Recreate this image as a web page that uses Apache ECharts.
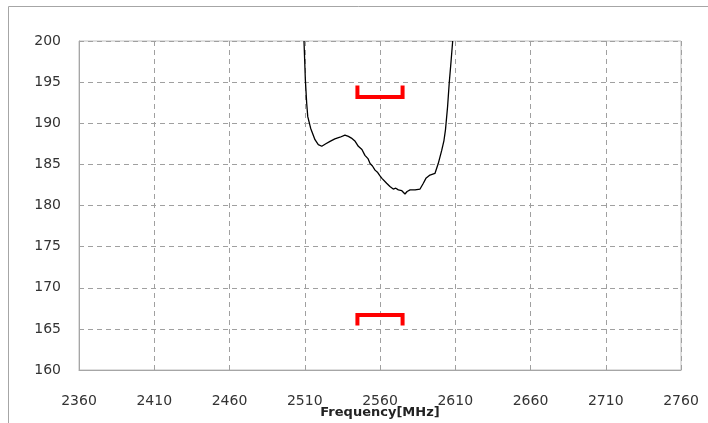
<!DOCTYPE html>
<html><head><meta charset="utf-8">
<script src="https://cdn.jsdelivr.net/npm/echarts@6/dist/echarts.min.js"></script>
<style>html,body{margin:0;padding:0;background:#fff}#c{width:708px;height:423px}</style>
</head><body><div id="c"></div>
<script>
const freqs = [2509.5, 2510.4, 2511.3, 2512, 2513.9, 2516.8, 2519, 2521.3, 2524, 2526.8, 2530, 2533.4, 2536.7, 2539, 2541, 2543.5, 2545.6, 2548, 2550, 2552, 2553.4, 2555, 2556.7, 2558.5, 2560, 2561.3, 2562.5, 2564.4, 2566.6, 2568.8, 2570.5, 2572.2, 2574.5, 2576.6, 2578, 2580, 2583.3, 2586.6, 2588.8, 2590.5, 2593.2, 2596.5, 2598.7, 2601, 2602.5, 2603.5, 2604.9, 2606, 2607.2, 2608.3];
const values = [200, 195.3, 192.4, 190.8, 189.4, 188.0, 187.4, 187.2, 187.5, 187.8, 188.1, 188.3, 188.55, 188.4, 188.2, 187.8, 187.2, 186.8, 186.1, 185.7, 185.1, 184.8, 184.3, 184.0, 183.6, 183.3, 183.1, 182.7, 182.3, 182.0, 182.1, 181.9, 181.8, 181.4, 181.7, 181.9, 181.9, 182.0, 182.7, 183.3, 183.7, 183.9, 185.1, 186.7, 187.9, 189.2, 192.0, 194.9, 197.5, 200];
const upperFreq = [2545, 2545, 2575, 2575];
const upperVal = [194.6, 193.2, 193.2, 194.6];
const lowerFreq = [2545, 2545, 2575, 2575];
const lowerVal = [165.4, 166.7, 166.7, 165.4];
const xMin = 2360, xMax = 2760, xStep = 50;
const yMin = 160, yMax = 200, yStep = 5;
const xName = 'Frequency[MHz]';

const zip = (a, b) => a.map((v, i) => [v, b[i]]);
const chart = echarts.init(document.getElementById('c'));
const font = 'DejaVu Sans';
chart.setOption({
  animation: false,
  graphic: [{type: 'rect', shape: {x: 8.5, y: 6.5, width: 800, height: 600}, style: {fill: 'none', stroke: '#a6a6a6', lineWidth: 1}, silent: true}],
  grid: {left: 79, top: 41, right: 27, bottom: 53, show: true, borderColor: '#bfbfbf', borderWidth: 1, containLabel: false, outerBoundsMode: 'none'},
  xAxis: {
    type: 'value', min: xMin, max: xMax, interval: xStep,
    name: xName, nameLocation: 'middle', nameGap: 36, nameMoveOverlap: false,
    nameTextStyle: {fontFamily: font, fontSize: 13, fontWeight: 'bold', color: '#222'},
    axisLine: {show: true, lineStyle: {color: '#a6a6a6'}},
    axisTick: {show: false},
    axisLabel: {fontFamily: font, fontSize: 14, color: '#333', margin: 24, formatter: v => String(v)},
    splitLine: {show: true, lineStyle: {color: '#a0a0a0', type: [5, 4], width: 1}}
  },
  yAxis: {
    type: 'value', min: yMin, max: yMax, interval: yStep,
    axisLine: {show: true, lineStyle: {color: '#a6a6a6'}},
    axisTick: {show: false},
    axisLabel: {fontFamily: font, fontSize: 14, color: '#333', margin: 18},
    splitLine: {show: true, lineStyle: {color: '#a0a0a0', type: [5, 4], width: 1}}
  },
  series: [
    {type: 'line', data: zip(freqs, values), showSymbol: false, smooth: false, clip: true,
     lineStyle: {color: '#000', width: 1.3}},
    {type: 'line', data: zip(upperFreq, upperVal), showSymbol: false,
     lineStyle: {color: '#ff0000', width: 4, cap: 'butt', join: 'miter'}},
    {type: 'line', data: zip(lowerFreq, lowerVal), showSymbol: false,
     lineStyle: {color: '#ff0000', width: 4, cap: 'butt', join: 'miter'}}
  ]
});
</script></body></html>
